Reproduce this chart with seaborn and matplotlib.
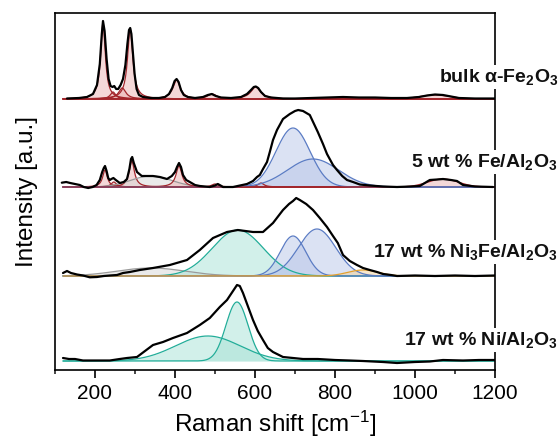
import numpy as np
import pandas as pd
import matplotlib
matplotlib.use("Agg")
import matplotlib.pyplot as plt
import seaborn as sns
from matplotlib.ticker import MultipleLocator

sns.set_theme(style="ticks")
plt.rcParams["font.family"] = ["Liberation Sans", "DejaVu Sans"]
plt.rcParams["mathtext.fontset"] = "custom"
plt.rcParams["mathtext.rm"] = "Liberation Sans"
plt.rcParams["mathtext.bf"] = "Liberation Sans:bold"
plt.rcParams["mathtext.it"] = "Liberation Sans:italic"

# ---------------- data (intensities in arbitrary units above each baseline) ----------------
sample_labels = [r"bulk α-Fe$_\mathbf{2}$O$_\mathbf{3}$",
                 r"5 wt % Fe/Al$_\mathbf{2}$O$_\mathbf{3}$",
                 r"17 wt % Ni$_\mathbf{3}$Fe/Al$_\mathbf{2}$O$_\mathbf{3}$",
                 r"17 wt % Ni/Al$_\mathbf{2}$O$_\mathbf{3}$"]
offsets = [271, 183, 94, 9]

# measured spectra (Raman shift, intensity)
bulk_x = [130, 160, 180, 195, 205, 212, 217, 220, 224, 229, 234, 239, 244, 248, 253, 258, 264, 270,
          276, 281, 285, 288, 291, 295, 299, 304, 310, 320, 340, 360, 375, 385, 393, 399, 404, 409,
          415, 422, 432, 450, 470, 482, 492, 502, 515, 540, 565, 580, 590, 597, 602, 608, 615, 625,
          640, 670, 700, 740, 780, 820, 860, 900, 940, 980, 1010, 1030, 1050, 1070, 1090, 1110,
          1150, 1200]
bulk_y = [0.5, 1, 2, 5, 14, 35, 65, 78, 68, 40, 20, 13, 12, 13, 10, 10, 14, 20,
          34, 55, 69, 71, 65, 45, 25, 10, 4, 2, 1, 1, 2, 5, 11, 18, 20, 17,
          9, 4, 2, 1, 2, 4, 5, 3, 1.5, 1, 2, 5, 9, 12, 12.5, 11, 7, 3,
          1.5, 0.5, 0.5, 1, 1.5, 2, 1.5, 1.5, 1, 1, 2, 3.5, 4.5, 4, 2.5, 1,
          0.5, 0.5]

fe5_x = [117, 128, 138, 150, 162, 172, 183, 194, 204, 212, 218, 222, 225, 229, 233, 237, 241, 246,
         252, 262, 272, 280, 286, 290, 293, 297, 305, 317, 330, 345, 362, 380, 392, 400, 405, 410,
         415, 420, 428, 437, 450, 462, 475, 487, 500, 507, 514, 520, 545, 580, 595, 605, 612, 620,
         630, 637, 645, 655, 670, 687, 700, 708, 720, 737, 757, 770, 780, 795, 805, 818, 830, 845,
         862, 887, 920, 955, 990, 1012, 1037, 1055, 1070, 1090, 1105, 1120, 1150, 1195]
fe5_y = [4.3, 5, 4, 3, 2, 0, -1, 0, 2, 7, 15, 19, 21, 16, 9, 7, 8, 9,
         7, 4, 5, 8, 18, 28, 30, 24, 15, 11, 11, 11, 10, 8, 11, 15, 20, 24,
         20, 12, 7, 5, 2, 1, 0.5, 0, 1.5, 3, 1.5, 0, 0, 3, 6, 10, 12, 18,
         25, 35, 47, 57, 68, 73, 76, 77, 76, 72, 55, 43, 33, 22, 17, 11, 7, 5,
         2.5, 1.5, 0.5, 0, 0.5, 1, 7, 7.5, 8, 7, 6, 2, 0.5, 0]

ni3fe_x = [120, 130, 140, 155, 170, 187, 205, 222, 237, 255, 270, 287, 312, 345, 387, 430, 462, 495,
           530, 557, 595, 620, 645, 670, 685, 695, 703, 712, 728, 745, 762, 780, 795, 807, 820, 837,
           855, 870, 887, 905, 920, 940, 955, 1000, 1050, 1100, 1150, 1200]
ni3fe_y = [3, 5, 3, 1.5, 0.5, -1.3, -1, 0, 0.5, 1, 3, 4, 6, 8, 11, 16, 26, 38,
           44, 46, 44, 44, 53, 66, 72, 75, 78, 76, 72, 66, 58, 49, 40, 33, 21, 15,
           11, 8, 6, 4, 2, 1, 0, 0.5, 0, 0.5, 0, 0.5]

ni_x = [120, 135, 150, 170, 200, 237, 262, 280, 305, 325, 345, 370, 395, 430, 462, 487, 512, 530,
        545, 555, 562, 570, 582, 595, 607, 620, 632, 645, 670, 720, 757, 800, 837, 870, 920, 955,
        1000, 1037, 1070, 1120, 1160, 1200]
ni_y = [3, 2, 2, 0.5, 0.5, 0.5, 2, 3, 4, 10, 16, 19, 23, 28, 36, 43, 54, 61,
        70, 76, 75, 68, 55, 41, 30, 21, 13, 9, 4, 2, 2, 1, 0.5, 0, -1, -2,
        -1, -0.5, 1, 0.5, 1, 1]

spectra_x = [bulk_x, fe5_x, ni3fe_x, ni_x]
spectra_y = [bulk_y, fe5_y, ni3fe_y, ni_y]

# fitted components: centre, height, FWHM, profile (L=Lorentz, G=Gauss), colour group
bulk_centres = [220, 245, 268, 288, 404, 493, 602, 1050]
bulk_heights = [76, 7, 11, 70, 19, 5, 12, 4]
bulk_fwhm = [14, 16, 22, 16, 22, 28, 30, 90]
bulk_shape = ["L", "L", "L", "L", "L", "L", "L", "G"]
bulk_group = ["red"] * 8

fe5_centres = [225, 247, 292, 340, 410, 500, 615, 695, 745, 1070]
fe5_heights = [17, 5, 26, 11, 21, 3, 4, 59, 28, 8]
fe5_fwhm = [14, 16, 16, 120, 18, 20, 18, 100, 150, 90]
fe5_shape = ["L", "L", "L", "G", "L", "L", "L", "G", "G", "G"]
fe5_group = ["red", "red", "red", "gray", "red", "red", "red", "blue", "blue", "red"]

ni3fe_centres = [340, 557, 695, 755, 870]
ni3fe_heights = [8, 46, 40, 47, 6]
ni3fe_fwhm = [200, 150, 75, 110, 90]
ni3fe_shape = ["G", "G", "G", "G", "G"]
ni3fe_group = ["gray", "teal", "blue", "blue", "orange"]

ni_centres = [482, 555]
ni_heights = [25, 59]
ni_fwhm = [190, 65]
ni_shape = ["G", "G"]
ni_group = ["teal", "teal"]

components = [
    (bulk_centres, bulk_heights, bulk_fwhm, bulk_shape, bulk_group),
    (fe5_centres, fe5_heights, fe5_fwhm, fe5_shape, fe5_group),
    (ni3fe_centres, ni3fe_heights, ni3fe_fwhm, ni3fe_shape, ni3fe_group),
    (ni_centres, ni_heights, ni_fwhm, ni_shape, ni_group),
]

x_ticks = [200, 400, 600, 800, 1000, 1200]

# ---------------- styling ----------------
line_colors = {"red": "#a3262c", "blue": "#5b7cc4", "teal": "#22ad99",
               "gray": "#9a9a9a", "orange": "#e3a02c"}
fill_colors = {"red": "#eab2b2", "blue": "#b9c6e8", "teal": "#a7e2d6",
               "gray": "#d6d6d6", "orange": "#f2d39a"}

fig = plt.figure(figsize=(5.6, 4.4), dpi=100)
ax = fig.add_axes([55 / 560, 1 - 370 / 440, 440 / 560, 357 / 440])

grid = np.arange(120, 1201, 1.0)


def profile(c, h, w, s):
    if s == "L":
        g = (w / 2) ** 2
        return h * g / ((grid - c) ** 2 + g)
    sig = w / 2.3548
    return h * np.exp(-0.5 * ((grid - c) / sig) ** 2)


for off, (cs, hs, ws, ss, gs) in zip(offsets, components):
    for c, h, w, s, g in zip(cs, hs, ws, ss, gs):
        yv = off + profile(c, h, w, s)
        ax.fill_between(grid, off, yv, color=fill_colors[g], alpha=0.5, lw=0, zorder=1)
    for c, h, w, s, g in zip(cs, hs, ws, ss, gs):
        yv = off + profile(c, h, w, s)
        sns.lineplot(x=grid, y=yv, color=line_colors[g], lw=0.9, ax=ax,
                     estimator=None, sort=False, zorder=2)

for off, xs, ys in zip(offsets, spectra_x, spectra_y):
    df = pd.DataFrame({"shift": xs, "I": np.array(ys) + off})
    sns.lineplot(data=df, x="shift", y="I", color="black", lw=1.6, ax=ax,
                 estimator=None, sort=False, zorder=3)

ax.set_xlim(100, 1200)
ax.set_ylim(0, 357)
ax.set_xticks(x_ticks)
ax.xaxis.set_minor_locator(MultipleLocator(100))
ax.set_yticks([])
ax.tick_params(axis="x", which="major", direction="out", length=6, width=1.2,
               labelsize=15, colors="black", pad=4)
ax.tick_params(axis="x", which="minor", direction="out", length=3, width=1.2)
for sp in ax.spines.values():
    sp.set_visible(True)
    sp.set_color("black")
    sp.set_linewidth(1.2)
ax.set_xlabel(r"Raman shift [cm$^{-1}$]", fontsize=17.5, color="black", labelpad=4)
ax.set_ylabel("Intensity [a.u.]", fontsize=17.5, color="black", labelpad=12)

label_y = [77, 162, 252, 340]
for lab, yy in zip(sample_labels, label_y):
    fig.text(558 / 560, 1 - yy / 440, lab, ha="right", va="center", fontsize=14,
             fontweight="bold", color="#111111",
             bbox=dict(facecolor="white", edgecolor="none", pad=1.5))

fig.savefig("out.png", dpi=100)
